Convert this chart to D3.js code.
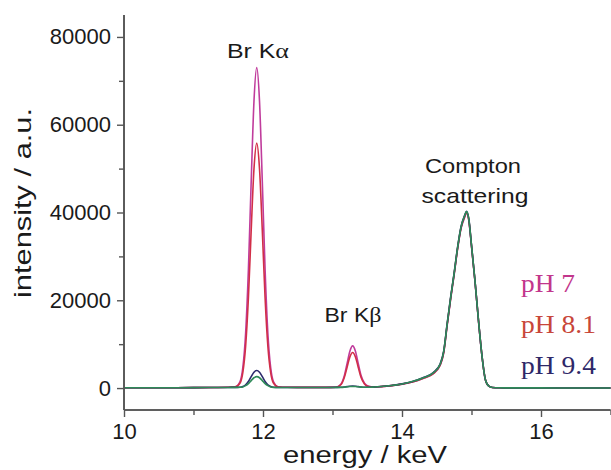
<!DOCTYPE html>
<html><head><meta charset="utf-8">
<script src="https://cdn.jsdelivr.net/npm/d3@7"></script>
<style>
html,body{margin:0;padding:0;background:#fff;}
svg{display:block;}
</style></head>
<body>
<div id="chart"></div>
<script>
// ---- data ----
const energy = [10.0, 10.5, 11.0, 11.3, 11.5, 11.6, 11.67, 11.71, 11.75, 11.79, 11.83, 11.87, 11.91, 11.95, 11.99, 12.03, 12.07, 12.11, 12.15, 12.22, 12.35, 12.6, 12.9, 13.05, 13.12, 13.17, 13.21, 13.25, 13.29, 13.33, 13.37, 13.41, 13.46, 13.52, 13.6, 13.7, 13.85, 14.0, 14.15, 14.3, 14.45, 14.55, 14.6, 14.65, 14.7, 14.75, 14.8, 14.85, 14.9, 14.93, 14.96, 15.0, 15.05, 15.1, 15.15, 15.2, 15.25, 15.3, 15.4, 15.6, 16.0, 16.5, 17.0];

const pH7 = [60, 70, 90, 130, 180, 280, 1500, 4700, 12500, 27000, 47000, 65300, 73000, 65300, 47000, 27000, 12500, 4700, 1500, 300, 170, 150, 150, 200, 880, 2800, 5600, 8400, 9600, 8400, 5600, 2900, 1100, 380, 220, 330, 560, 900, 1400, 2200, 3300, 5200, 8000, 14300, 20300, 25800, 31700, 36400, 38800, 39900, 38300, 32300, 24300, 15400, 7400, 1900, 420, 130, 60, 40, 30, 20, 20];

const pH81 = [60, 70, 90, 130, 180, 260, 1150, 3600, 9550, 20600, 35900, 49900, 55800, 49900, 35900, 20600, 9550, 3600, 1150, 250, 170, 150, 150, 200, 750, 2400, 4750, 7100, 8100, 7100, 4750, 2450, 950, 340, 220, 330, 560, 900, 1400, 2200, 3300, 5250, 8100, 14400, 20400, 25900, 31800, 36500, 39000, 40000, 38400, 32400, 24400, 15500, 7450, 1900, 420, 130, 60, 40, 30, 20, 20];

const pH94 = [60, 70, 90, 120, 140, 150, 200, 360, 760, 1500, 2600, 3600, 4000, 3600, 2600, 1500, 760, 360, 180, 130, 120, 120, 130, 150, 170, 230, 330, 420, 460, 420, 330, 240, 180, 180, 230, 350, 600, 950, 1500, 2350, 3550, 5550, 8400, 14700, 20700, 26200, 32100, 36800, 39300, 40300, 38700, 32600, 24500, 15500, 7450, 1900, 420, 130, 60, 40, 30, 20, 20];

const pHx = [60, 70, 90, 120, 140, 150, 180, 260, 540, 1020, 1700, 2350, 2600, 2350, 1700, 1020, 540, 260, 150, 120, 120, 120, 130, 150, 160, 210, 280, 340, 370, 340, 280, 210, 170, 170, 225, 340, 590, 930, 1480, 2300, 3450, 5450, 8300, 14600, 20600, 26100, 32000, 36700, 39200, 40200, 38600, 32500, 24450, 15500, 7450, 1900, 420, 130, 60, 40, 30, 20, 20];

const seriesNames = ["pH 7", "pH 8.1", "pH 9.4", ""];
const seriesValues = [pH7, pH81, pH94, pHx];
const seriesColors = ["#c03c9c", "#d22f48", "#2c2a6c", "#2e8a58"];
const legendColors = ["#c2368c", "#c8463a", "#2e2868"];

const xMajorTicks = [10, 12, 14, 16];
const xMinorTicks = [11, 13, 15, 17];
const yMajorTicks = [0, 20000, 40000, 60000, 80000];
const yMinorTicks = [10000, 30000, 50000, 70000];

// ---- drawing ----
const W = 611, H = 470;
const svg = d3.select("#chart").append("svg").attr("width", W).attr("height", H)
  .style("background", "#fff");

const x = d3.scaleLinear().domain([10, 17]).range([124, 610.5]);
const y = d3.scaleLinear().domain([-5000, 85000]).range([410, 15]);

const axisColor = "#555";
const sans = "'Liberation Sans', Arial, Helvetica, sans-serif";
const serif = "'Liberation Serif', 'Times New Roman', serif";

// lines
const line = d3.line().x(d => x(d[0])).y(d => y(d[1])).curve(d3.curveMonotoneX);
seriesValues.forEach((vals, i) => {
  svg.append("path")
    .datum(energy.map((e, j) => [e, vals[j]]))
    .attr("d", line)
    .attr("fill", "none")
    .attr("stroke", seriesColors[i])
    .attr("stroke-width", 1.6)
    .attr("stroke-linejoin", "round");
});

// x axis
const gx = svg.append("g").attr("transform", `translate(0,${y(-5000)})`);
gx.call(d3.axisBottom(x).tickValues(xMajorTicks).tickSize(7).tickPadding(6).tickFormat(d3.format("d")));
gx.append("g").call(d3.axisBottom(x).tickValues(xMinorTicks).tickSize(5).tickFormat(""));
// y axis
const gy = svg.append("g").attr("transform", `translate(${x(10)},0)`);
gy.call(d3.axisLeft(y).tickValues(yMajorTicks).tickSize(7).tickPadding(6).tickFormat(d3.format("d")));
gy.append("g").call(d3.axisLeft(y).tickValues(yMinorTicks).tickSize(5).tickFormat(""));

svg.selectAll(".domain").attr("stroke", axisColor).attr("stroke-width", 1.6);
svg.selectAll(".tick line").attr("stroke", axisColor).attr("stroke-width", 1.4);
svg.selectAll(".tick text").attr("fill", "#1a1a1a").style("font-family", sans).style("font-size", "22px");
gx.selectAll(".domain").attr("d", `M${x(10)},0H${x(17)}`);
gy.selectAll(".domain").attr("d", `M0,${y(-5000)}V${y(85000)}`);

// axis titles
svg.append("text")
  .attr("x", 365).attr("y", 463)
  .attr("text-anchor", "middle")
  .attr("textLength", 164).attr("lengthAdjust", "spacingAndGlyphs")
  .style("font-family", sans).style("font-size", "23px").attr("fill", "#1a1a1a")
  .text("energy / keV");

svg.append("text")
  .attr("transform", "translate(31,203) rotate(-90)")
  .attr("text-anchor", "middle")
  .attr("textLength", 190).attr("lengthAdjust", "spacingAndGlyphs")
  .style("font-family", sans).style("font-size", "24px").attr("fill", "#1a1a1a")
  .text("intensity / a.u.");

// annotations
function annot(tx, ty, main, greek, len) {
  const t = svg.append("text").attr("x", tx).attr("y", ty).attr("text-anchor", "middle")
    .attr("textLength", len).attr("lengthAdjust", "spacingAndGlyphs")
    .style("font-family", sans).style("font-size", "21px").attr("fill", "#1a1a1a");
  t.append("tspan").text(main);
  if (greek) t.append("tspan").style("font-family", serif).style("font-size", "22px").text(greek);
  return t;
}
annot(258, 58, "Br K", "α", 62);
annot(353, 322, "Br K", "β", 57);
annot(473, 173, "Compton", null, 96);
annot(475, 203, "scattering", null, 107);

// legend
const legendLens = [54, 75, 75];
seriesNames.forEach((n, i) => {
  if (!n) return;
  svg.append("text")
    .attr("x", 521).attr("y", 292 + i * 41)
    .attr("textLength", legendLens[i]).attr("lengthAdjust", "spacingAndGlyphs")
    .style("font-family", serif).style("font-size", "25px")
    .attr("fill", legendColors[i])
    .text(n);
});
</script>
</body></html>
